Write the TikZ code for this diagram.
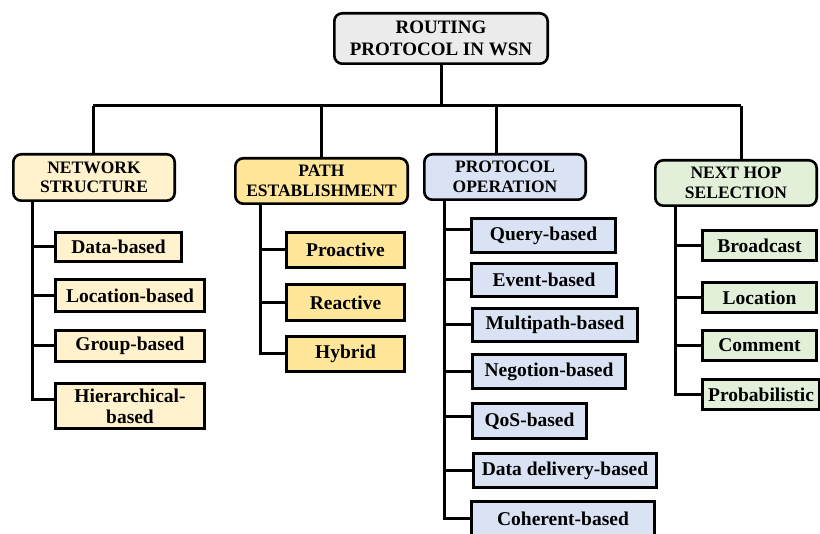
\documentclass[tikz,border=0pt]{standalone}
\usepackage{fontspec}
\setmainfont{Liberation Serif}
\definecolor{topgray}{HTML}{EBEBEB}
\definecolor{netyel}{HTML}{FFF2CC}
\definecolor{pathyel}{HTML}{FFE699}
\definecolor{protblue}{HTML}{DAE3F3}
\definecolor{hopgreen}{HTML}{E2F0D9}
\newcommand{\bx}[8]{\node[#2, fill=#3, minimum width={(#6-#4-2.6)*1pt}, minimum height={(#7-#5-2.6)*1pt}] (#1) at ({(#4+#6)/2},{(#5+#7)/2}) {#8};}
\begin{document}
\begin{tikzpicture}[x=1pt,y=-1pt,
  hdr/.style={draw=black, line width=2.6pt, rounded corners=8pt, align=center, font=\bfseries\fontsize{17.5}{19.5}\selectfont, inner sep=0pt},
  tophdr/.style={hdr, font=\bfseries\fontsize{19}{22}\selectfont},
  leaf/.style={draw=black, line width=2.6pt, align=center, font=\bfseries\fontsize{19.5}{21}\selectfont, inner sep=0pt},
  conn/.style={line width=3pt, line join=miter}]
\useasboundingbox (0,0) rectangle (820,534);
\clip (0,0) rectangle (820,534);
% headers
\bx{top}{tophdr}{topgray}{333}{12}{549}{65}{ROUTING\\PROTOCOL IN WSN}
\bx{net}{hdr}{netyel}{12}{153}{176}{202}{NETWORK\\STRUCTURE}
\bx{path}{hdr}{pathyel}{234}{157}{409}{205}{PATH\\ESTABLISHMENT}
\bx{prot}{hdr}{protblue}{423}{153}{587}{201}{PROTOCOL\\OPERATION}
\bx{hop}{hdr}{hopgreen}{654}{159}{818}{207}{NEXT HOP\\SELECTION}
% network leaves
\bx{n1}{leaf}{netyel}{54}{231}{183}{263}{Data-based}
\bx{n2}{leaf}{netyel}{54}{278}{206}{313}{Location-based}
\bx{n3}{leaf}{netyel}{54}{329}{206}{363}{Group-based}
\bx{n4}{leaf}{netyel}{54}{382}{206}{430}{Hierarchical-\\based}
% path leaves
\bx{p1}{leaf}{pathyel}{285}{231}{406}{269}{Proactive}
\bx{p2}{leaf}{pathyel}{285}{283}{406}{322}{Reactive}
\bx{p3}{leaf}{pathyel}{285}{335}{406}{373}{Hybrid}
% protocol leaves
\bx{o1}{leaf}{protblue}{470}{217}{617}{254}{Query-based}
\bx{o2}{leaf}{protblue}{470}{262}{618}{298}{Event-based}
\bx{o3}{leaf}{protblue}{471}{307}{639}{343}{Multipath-based}
\bx{o4}{leaf}{protblue}{471}{353}{627}{390}{Negotion-based}
\bx{o5}{leaf}{protblue}{471}{402}{588}{440}{QoS-based}
\bx{o6}{leaf}{protblue}{472}{452}{658}{489}{Data delivery-based}
\bx{o7}{leaf}{protblue}{470}{500}{656}{537}{Coherent-based}
% next hop leaves
\bx{h1}{leaf}{hopgreen}{701}{229}{818}{262}{Broadcast}
\bx{h2}{leaf}{hopgreen}{701}{281}{818}{314}{Location}
\bx{h3}{leaf}{hopgreen}{701}{329}{818}{362}{Comment}
\bx{h4}{leaf}{hopgreen}{701}{378}{821}{411}{Probabilistic}
% bus
\coordinate (bus) at (441,106);
\coordinate (b1) at (93,106);
\coordinate (b2) at (321,106);
\coordinate (b3) at (496,106);
\coordinate (b4) at (741,106);
\draw[conn] (top.south -| bus) -- (bus);
\draw[conn] (b1) -- (b4);
\draw[conn] (b1) -- (b1 |- net.north);
\draw[conn] (b2) -- (b2 |- path.north);
\draw[conn] (b3) -- (b3 |- prot.north);
\draw[conn] (b4) -- (b4 |- hop.north);
% trunks
\coordinate (t1) at (32,0);
\coordinate (t2) at (260,0);
\coordinate (t3) at (444,0);
\coordinate (t4) at (675,0);
\draw[conn] (t1 |- net.south) |- ([yshift=6pt]n4.west);
\foreach \c in {n1,n2,n3} \draw[conn] (t1 |- \c.west) -- (\c.west);
\draw[conn] (t2 |- path.south) |- (p3.west);
\foreach \c in {p1,p2} \draw[conn] (t2 |- \c.west) -- (\c.west);
\draw[conn] (t3 |- prot.south) |- (o7.west);
\draw[conn] (t3 |- o1.west) ++(0,-6) -- ([yshift=6pt]o1.west);
\draw[conn] (t3 |- o5.west) ++(0,-4) -- ([yshift=4pt]o5.west);
\foreach \c in {o2,o3,o4,o6} \draw[conn] (t3 |- \c.west) -- (\c.west);
\draw[conn] (t4 |- hop.south) |- (h4.west);
\foreach \c in {h1,h2,h3} \draw[conn] (t4 |- \c.west) -- (\c.west);
\end{tikzpicture}
\end{document}
